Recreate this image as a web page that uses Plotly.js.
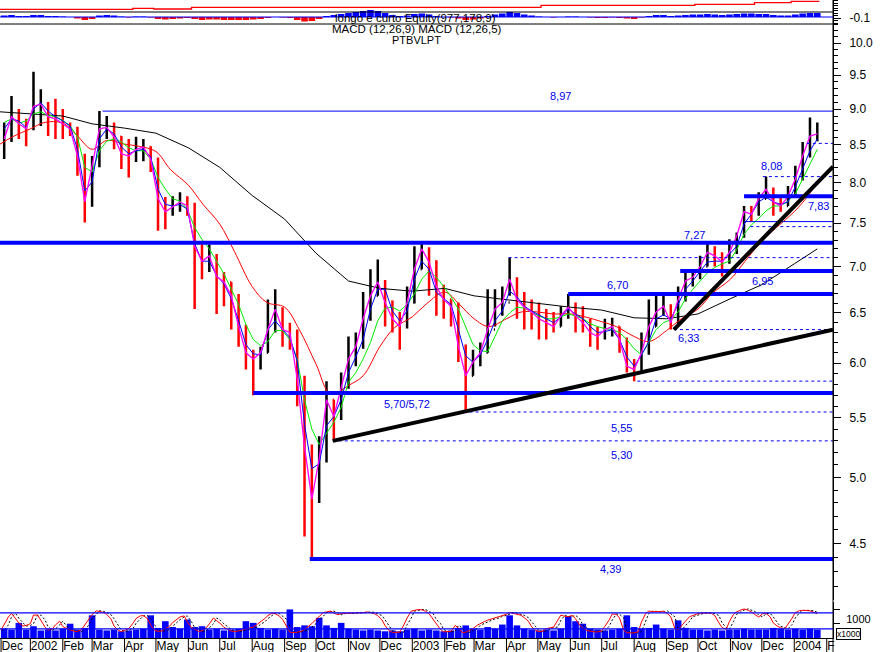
<!DOCTYPE html>
<html><head><meta charset="utf-8">
<script src="https://cdn.plot.ly/plotly-3.0.1.min.js"></script>
<style>html,body{margin:0;padding:0;background:#fff;}#chart{width:880px;height:652px;}</style>
</head><body><div id="chart"></div>
<script>
// ---------- DATA (weekly) ----------
const weeks = ["2001-12-07","2001-12-14","2001-12-21","2001-12-28","2002-01-04","2002-01-11","2002-01-18","2002-01-25","2002-02-01","2002-02-08","2002-02-15","2002-02-22","2002-03-01","2002-03-08","2002-03-15","2002-03-22","2002-03-29","2002-04-05","2002-04-12","2002-04-19","2002-04-26","2002-05-03","2002-05-10","2002-05-17","2002-05-24","2002-05-31","2002-06-07","2002-06-14","2002-06-21","2002-06-28","2002-07-05","2002-07-12","2002-07-19","2002-07-26","2002-08-02","2002-08-09","2002-08-16","2002-08-23","2002-08-30","2002-09-06","2002-09-13","2002-09-20","2002-09-27","2002-10-04","2002-10-11","2002-10-18","2002-10-25","2002-11-01","2002-11-08","2002-11-15","2002-11-22","2002-11-29","2002-12-06","2002-12-13","2002-12-20","2002-12-27","2003-01-03","2003-01-10","2003-01-17","2003-01-24","2003-01-31","2003-02-07","2003-02-14","2003-02-21","2003-02-28","2003-03-07","2003-03-14","2003-03-21","2003-03-28","2003-04-04","2003-04-11","2003-04-18","2003-04-25","2003-05-02","2003-05-09","2003-05-16","2003-05-23","2003-05-30","2003-06-06","2003-06-13","2003-06-20","2003-06-27","2003-07-04","2003-07-11","2003-07-18","2003-07-25","2003-08-01","2003-08-08","2003-08-15","2003-08-22","2003-08-29","2003-09-05","2003-09-12","2003-09-19","2003-09-26","2003-10-03","2003-10-10","2003-10-17","2003-10-24","2003-10-31","2003-11-07","2003-11-14","2003-11-21","2003-11-28","2003-12-05","2003-12-12","2003-12-19","2003-12-26","2004-01-02","2004-01-09","2004-01-16","2004-01-23"];

const weekClose = [8.58,8.89,8.79,8.72,9.04,9.07,8.89,8.86,8.79,8.72,
8.35,7.76,8.22,8.72,8.74,8.61,8.38,8.35,8.44,8.47,
8.31,7.80,7.64,7.70,7.76,7.71,7.23,7.06,7.12,6.89,
6.83,6.68,6.36,6.10,6.04,6.10,6.33,6.54,6.33,6.30,
5.85,5.25,4.83,5.15,5.66,5.51,5.78,6.04,6.16,6.44,
6.68,6.83,6.61,6.44,6.36,6.61,6.97,7.20,7.05,6.78,
6.64,6.57,6.16,5.88,6.01,6.10,6.33,6.54,6.61,6.86,
6.64,6.56,6.51,6.44,6.40,6.36,6.47,6.56,6.47,6.40,
6.30,6.26,6.33,6.36,6.23,5.97,5.94,6.10,6.36,6.51,
6.57,6.40,6.64,6.84,6.88,7.00,7.16,7.12,7.05,7.16,
7.35,7.64,7.61,7.80,7.92,7.76,7.71,7.83,8.05,8.35,
8.62,8.65];

const weekHigh = [8.81,9.19,9.00,8.86,9.55,9.29,9.10,9.15,9.00,8.81,
8.75,8.38,8.35,8.97,8.90,8.81,8.62,8.58,8.61,8.58,
8.48,8.33,7.82,7.83,7.88,7.83,7.75,7.28,7.25,7.14,
6.94,6.83,6.70,6.38,6.13,6.16,6.64,6.75,6.56,6.40,
6.33,5.88,5.27,5.34,5.83,5.66,5.91,6.26,6.30,6.72,
6.97,7.08,6.85,6.63,6.51,6.78,7.23,7.29,7.22,7.07,
6.80,6.64,6.61,6.18,6.13,6.20,6.75,6.75,6.78,7.10,
6.88,6.72,6.64,6.61,6.54,6.51,6.57,6.70,6.61,6.57,
6.44,6.36,6.44,6.45,6.36,6.25,6.04,6.30,6.64,6.68,
6.68,6.59,6.78,6.97,6.97,7.12,7.28,7.23,7.16,7.31,
7.39,7.71,7.71,7.88,8.08,7.94,7.83,7.96,8.22,8.54,
8.88,8.81];

const weekLow = [8.31,8.54,8.58,8.48,8.70,8.76,8.62,8.58,8.58,8.62,
8.09,7.51,7.70,8.20,8.58,8.44,8.18,8.07,8.27,8.28,
8.14,7.41,7.43,7.59,7.64,7.59,6.54,6.86,6.94,6.49,
6.57,6.33,6.16,5.94,5.70,5.94,6.10,6.30,6.16,6.13,
5.60,4.55,4.39,4.80,5.12,5.30,5.48,5.76,5.97,6.14,
6.42,6.68,6.36,6.30,6.13,6.34,6.60,6.97,6.68,6.47,
6.44,6.36,6.01,5.55,5.88,5.97,6.10,6.36,6.47,6.68,
6.44,6.33,6.33,6.23,6.23,6.30,6.36,6.44,6.30,6.30,
6.16,6.13,6.23,6.26,6.10,5.91,5.83,5.92,6.08,6.36,
6.47,6.33,6.38,6.62,6.78,6.86,7.00,7.00,6.89,7.03,
7.14,7.33,7.52,7.59,7.80,7.59,7.64,7.71,7.81,8.03,
8.33,8.55];

const maBlue = [8.72,8.86,8.83,8.74,9.00,9.09,8.97,8.89,8.83,8.76,
8.44,7.90,8.01,8.58,8.72,8.65,8.47,8.38,8.42,8.44,
8.34,7.92,7.73,7.71,7.73,7.67,7.26,7.06,7.06,6.90,
6.81,6.65,6.42,6.18,6.09,6.08,6.33,6.42,6.33,6.25,
6.02,5.44,5.07,5.11,5.43,5.51,5.66,5.91,6.06,6.23,
6.54,6.75,6.75,6.52,6.42,6.52,6.86,7.06,6.97,6.72,
6.65,6.59,6.33,6.07,6.01,6.08,6.23,6.42,6.52,6.73,
6.67,6.57,6.52,6.48,6.44,6.40,6.46,6.54,6.49,6.44,
6.36,6.30,6.31,6.33,6.23,6.06,5.97,6.08,6.21,6.44,
6.48,6.44,6.59,6.75,6.84,6.95,7.05,7.06,7.06,7.14,
7.23,7.49,7.61,7.76,7.82,7.76,7.73,7.76,7.95,8.18,
8.42,8.58];

const maGreen = [8.81,8.86,8.80,8.83,8.93,8.96,8.91,8.89,8.84,8.76,
8.61,8.20,8.14,8.42,8.55,8.58,8.54,8.46,8.42,8.42,
8.31,8.07,7.92,7.80,7.77,7.67,7.45,7.31,7.20,7.06,
6.92,6.75,6.59,6.38,6.23,6.17,6.21,6.32,6.32,6.23,
6.04,5.66,5.40,5.27,5.36,5.46,5.59,5.82,5.91,6.04,
6.20,6.42,6.55,6.56,6.52,6.59,6.70,6.86,6.95,6.88,
6.78,6.67,6.54,6.36,6.18,6.12,6.11,6.26,6.42,6.50,
6.56,6.55,6.51,6.47,6.44,6.44,6.46,6.49,6.47,6.44,
6.39,6.36,6.34,6.33,6.30,6.23,6.14,6.08,6.20,6.33,
6.40,6.43,6.51,6.65,6.75,6.84,6.93,6.99,7.03,7.06,
7.19,7.37,7.48,7.56,7.65,7.71,7.71,7.77,7.86,8.05,
8.24,8.44];

const maRedDates = ["2001-12-03","2001-12-15","2002-01-01","2002-01-15","2002-02-01","2002-02-15","2002-03-01","2002-03-15","2002-04-01","2002-04-15","2002-05-01","2002-05-15","2002-06-01","2002-06-15","2002-07-01","2002-07-15","2002-08-01","2002-08-15","2002-09-01","2002-09-15","2002-10-01","2002-10-15","2002-11-01","2002-11-15","2002-12-01","2002-12-15","2003-01-01","2003-01-15","2003-02-01","2003-02-15","2003-03-01","2003-03-15","2003-04-01","2003-04-15","2003-05-01","2003-05-15","2003-06-01","2003-06-15","2003-07-01","2003-07-15","2003-08-01","2003-08-15","2003-09-01","2003-09-15","2003-10-01","2003-10-15","2003-11-01","2003-11-15","2003-12-01","2003-12-15","2004-01-01","2004-01-15","2004-01-23"];
const maRed = [8.51,8.61,8.72,8.81,8.80,8.62,8.44,8.56,8.51,8.48,8.41,8.17,7.97,7.73,7.49,7.17,6.78,6.61,6.56,6.33,5.99,5.71,5.79,5.88,6.16,6.35,6.46,6.60,6.72,6.59,6.44,6.36,6.44,6.51,6.51,6.49,6.49,6.46,6.41,6.36,6.26,6.21,6.32,6.44,6.54,6.71,6.86,7.06,7.29,7.45,7.64,7.85,8.01];

const maBlackDates = ["2001-12-03","2002-01-01","2002-02-01","2002-03-01","2002-04-01","2002-05-01","2002-06-01","2002-07-01","2002-08-01","2002-09-01","2002-10-01","2002-11-01","2002-12-01","2003-01-01","2003-02-01","2003-03-01","2003-04-01","2003-05-01","2003-06-01","2003-07-01","2003-08-01","2003-09-01","2003-10-01","2003-11-01","2003-12-01","2004-01-01","2004-01-23"];
const maBlack = [8.96,8.93,8.90,8.79,8.73,8.66,8.46,8.20,7.84,7.55,7.15,6.84,6.76,6.73,6.76,6.68,6.64,6.60,6.56,6.53,6.45,6.44,6.49,6.65,6.80,7.03,7.20];

// volume in thousands (x1000)
const volume = [660,600,1080,600,840,540,600,540,660,1020,
600,720,1620,600,540,600,480,540,600,660,
1620,720,1200,780,660,1320,780,840,600,660,
540,600,660,1200,1080,720,600,660,600,2040,
780,900,840,1440,900,720,1080,660,600,540,
600,540,480,540,480,600,660,540,600,540,
480,540,720,900,660,600,780,660,960,1620,
900,660,600,540,600,540,660,1560,1200,1020,
660,600,540,600,660,1620,780,660,720,960,
660,600,1260,720,600,600,540,600,540,600,
600,660,600,600,600,720,660,600,660,600,
660,600];

const macdHist = [0.015,0.02,0.01,0.01,0.02, 0.02,0.01,0.01,0.005,0.0,
-0.015,-0.03,-0.02, 0.015,0.02,0.015,0.005,-0.005, 0.005,0.005,-0.005,
-0.02,-0.025,-0.02,-0.015,-0.01,
-0.02,-0.03,-0.025,-0.025,-0.03,-0.03,-0.03,-0.03,-0.025,-0.02,-0.01,
0.0,-0.005, -0.01,-0.03,-0.045,-0.04,-0.02,
0.01,0.02,0.03,0.04,0.05,0.06,0.07,0.06, 0.04,0.02,0.01,0.015,
0.03,0.035,0.025, 0.01,0.0,-0.005,-0.015, -0.03,-0.025,-0.015,
0.01,0.025,0.035,0.05, 0.04,0.025,0.015,0.005,0.0,-0.005,0.0,0.005,0.005,0.0,-0.005,
-0.01,-0.01,-0.005,-0.01,-0.015,-0.02,
-0.005,0.01,0.02,0.02,0.01,0.015,0.02,0.025,0.025,0.03,0.025,0.02,0.025,0.03,0.035,0.035,0.03,0.03,0.02,0.015,0.015,0.025,0.035,0.04,0.04];

const equityDates = ["2001-12-03","2002-04-09","2002-04-29","2002-06-04","2003-05-04","2003-09-28","2003-11-24","2003-12-29","2004-01-25"];
const equity = [-0.013,-0.003,-0.010,0.007,0.027,0.037,0.053,0.067,0.067];

// stochastic %K, two readings per week (Tuesday, Friday)
const stochK = [16,35, 65,78, 60,43, 31,33, 40,72, 72,54, 27,16, 20,35, 49,29, 21,16,
12,10, 18,35, 58,74, 88,86, 82,74, 58,31, 15,10, 15,21, 41,59, 69,70,
58,34, 14,11, 13,19, 30,44, 55,65, 69,47, 25,19, 11,13, 24,39, 61,51,
39,26, 18,12, 10,13, 16,19, 24,27, 38,46, 59,70, 79,77, 68,56, 30,8,
6,8, 11,18, 29,40, 56,68, 81,84, 87,80, 73,78, 78,77, 79,80, 80,81,
84,82, 77,70, 54,32, 13,7, 6,8, 36,61, 87,89, 93,92, 86,77, 55,40,
18,9, 9,11, 33,24, 6,8, 15,21, 34,41, 48,53, 58,61, 67,71, 75,82,
79,76, 71,62, 49,28, 14,10, 12,21, 25,27, 53,72, 67,66, 71,58, 34,23,
14,11, 9,9, 13,30, 53,76, 75,61, 15,6, 5,5, 10,46, 78,87, 85,84,
85,87, 77,65, 21,17, 33,49, 66,71, 76,79, 80,80, 78,70, 43,25, 19,48,
75,84, 91,95, 90,84, 72,65, 78,78, 65,42, 30,24, 21,37, 61,81, 89,90,
90,88, 82,77];

// support / resistance levels
const levelsMajor = [7.27, 5.72, 4.39, 6.70, 6.95, 7.83];
const levelsMajorFrom = ["2001-12-03","2002-08-02","2002-09-25","2003-05-30","2003-09-14","2003-11-14"];
const levelsThin = [8.97, 7.52];
const levelsThinFrom = ["2002-03-11","2003-11-14"];
const levelsDashed = [5.55, 5.30, 7.10, 5.83, 6.33, 7.46, 8.08, 8.52];
const levelsDashedFrom = ["2003-02-19","2002-10-17","2003-04-03","2003-08-04","2003-09-08","2003-11-20","2003-12-02","2004-01-13"];
const trendA = {dates:["2002-10-17","2004-02-07"], values:[5.30, 6.33]};
const trendB = {dates:["2003-09-08","2004-02-07"], values:[6.33, 8.21]};

const labelText  = ["8,97","7,27","5,70/5,72","5,55","5,30","4,39","6,70","6,95","6,33","7,83","8,08"];
const labelLevel = [8.97, 7.27, 5.72, 5.55, 5.30, 4.39, 6.70, 6.95, 6.33, 7.83, 8.08];

const monthTicks = ["2001-12-04","2002-01-01","2002-02-01","2002-03-01","2002-04-01","2002-05-01","2002-06-01","2002-07-01","2002-08-01","2002-09-01","2002-10-01","2002-11-01","2002-12-01","2003-01-01","2003-02-01","2003-03-01","2003-04-01","2003-05-01","2003-06-01","2003-07-01","2003-08-01","2003-09-01","2003-10-01","2003-11-01","2003-12-01","2004-01-01","2004-02-01"];
const monthLabels = ["Dec","2002","Feb","Mar","Apr","May","Jun","Jul","Aug","Sep","Oct","Nov","Dec","2003","Feb","Mar","Apr","May","Jun","Jul","Aug","Sep","Oct","Nov","Dec","2004","F"];
const priceTicks = [4.5,5.0,5.5,6.0,6.5,7.0,7.5,8.0,8.5,9.0,9.5,10.0];

// ---------- BUILD ----------
const X0 = "2001-12-03", X1 = "2004-02-07";
function shiftDays(s, n){ const d = new Date(s+"T00:00:00Z"); d.setUTCDate(d.getUTCDate()+n); return d.toISOString().slice(0,10); }
const stochDates = weeks.flatMap(w => [shiftDays(w,-3), w]);
const stochD = stochK.map((v,i)=> i ? stochK[i-1] : v);
const opens = weekClose.map((c,i)=> i ? weekClose[i-1] : c);

const BLUE = "#0000ff";
const traces = [];
traces.push({type:"ohlc", x:weeks, open:opens, high:weekHigh, low:weekLow, close:weekClose,
  increasing:{line:{color:"#000000", width:2.5}}, decreasing:{line:{color:"#ff0000", width:2.5}},
  tickwidth:0.15, hoverinfo:"skip", xaxis:"x", yaxis:"y"});
traces.push({x:maBlackDates, y:maBlack, mode:"lines", line:{color:"#000000", width:1}, yaxis:"y"});
traces.push({x:maRedDates, y:maRed, mode:"lines", line:{color:"#ff0000", width:1, shape:"spline"}, yaxis:"y"});
traces.push({x:weeks, y:maGreen, mode:"lines", line:{color:"#00ee00", width:1}, yaxis:"y"});
traces.push({x:weeks, y:maBlue, mode:"lines", line:{color:BLUE, width:1}, yaxis:"y"});
traces.push({x:weeks, y:weekClose, mode:"lines", line:{color:"#ff00ff", width:1.3}, yaxis:"y"});
levelsMajor.forEach((v,i)=> traces.push({x:[levelsMajorFrom[i], X1], y:[v,v], mode:"lines", line:{color:BLUE, width:4}, yaxis:"y"}));
levelsThin.forEach((v,i)=> traces.push({x:[levelsThinFrom[i], X1], y:[v,v], mode:"lines", line:{color:BLUE, width:1}, yaxis:"y"}));
levelsDashed.forEach((v,i)=> traces.push({x:[levelsDashedFrom[i], X1], y:[v,v], mode:"lines", line:{color:BLUE, width:1, dash:"3px,3px"}, yaxis:"y"}));
[trendA, trendB].forEach(t => traces.push({x:t.dates, y:t.values, mode:"lines", line:{color:"#000000", width:4}, yaxis:"y"}));
// top pane
traces.push({type:"bar", x:weeks, y:macdHist, base:-0.09, marker:{color:macdHist.map(v=> v>=0 ? BLUE : "#ff0000"), line:{width:0}}, yaxis:"y3", hoverinfo:"skip"});
traces.push({x:equityDates, y:equity, mode:"lines", line:{color:"#ff0000", width:1.3, shape:"hv"}, yaxis:"y3"});
// bottom pane
traces.push({type:"bar", x:weeks, y:volume, marker:{color:BLUE, line:{width:0}}, yaxis:"y2", hoverinfo:"skip"});
traces.push({x:stochDates, y:stochD, mode:"lines", line:{color:"#000000", width:1, dash:"2px,2px"}, yaxis:"y4"});
traces.push({x:stochDates, y:stochK, mode:"lines", line:{color:"#ff0000", width:1}, yaxis:"y4"});

// label placement (pixel offsets from their level lines)
const labelAt = ["2003-05-23","2003-09-28","2002-12-27","2003-07-20","2003-07-20","2003-07-09","2003-07-16","2003-12-02","2003-09-22","2004-01-24","2003-12-10"];
const labelShift = [15, 8, -11, -16, -14, -10, 9, -10, -8, -10, 11];

const annotations = labelText.map((t,i)=>({x:labelAt[i], y:Math.log10(labelLevel[i]), xref:"x", yref:"y", text:t, showarrow:false,
  yshift:labelShift[i], font:{size:11, color:"#0000ee", family:"Liberation Sans, Arial, sans-serif"}}));
const yp = px => (638 - px)/638;
annotations.push({xref:"paper", yref:"paper", x:415/833, y:yp(10), text:"longo e curto Equity(977,178,9)", showarrow:false, font:{size:11.5, color:"#000"}});
annotations.push({xref:"paper", yref:"paper", x:417/833, y:yp(21.5), text:"MACD (12,26,9) MACD (12,26,5)", showarrow:false, font:{size:11.5, color:"#000"}});
annotations.push({xref:"paper", yref:"paper", x:416/833, y:yp(32), text:"PTBVLPT", showarrow:false, font:{size:11, color:"#000"}});
annotations.push({xref:"paper", yref:"paper", x:836/833, y:yp(634), xanchor:"left", yanchor:"middle", text:"x1000", showarrow:false,
  font:{size:8.5, color:"#000"}, bordercolor:"#000", borderwidth:1, borderpad:0, bgcolor:"#fff"});

const shapes = [];
monthTicks.forEach(d => shapes.push({type:"line", xref:"x", yref:"paper", x0:d, x1:d, y0:0, y1:-14/638, line:{color:"#000", width:1}}));
shapes.push({type:"line", xref:"paper", yref:"paper", x0:1, x1:1, y0:-14/638, y1:1, line:{color:"#000", width:1}});
shapes.push({type:"line", xref:"paper", yref:"paper", x0:0, x1:1, y0:yp(24), y1:yp(24), line:{color:"#000", width:1}});
shapes.push({type:"line", xref:"paper", yref:"y3", x0:0, x1:1, y0:-0.04, y1:-0.04, line:{color:"#000", width:1}});
shapes.push({type:"line", xref:"paper", yref:"y3", x0:0, x1:1, y0:-0.09, y1:-0.09, line:{color:BLUE, width:1}});
[80, 20].forEach(v => shapes.push({type:"line", xref:"paper", yref:"y4", x0:0, x1:1, y0:v, y1:v, line:{color:BLUE, width:1.3}}));

const minorPrice = [];
for (let v = 42; v <= 103; v++) { if (v % 5 !== 0) minorPrice.push(v/10); }

const layout = {
  width:880, height:652, margin:{l:0, r:47, t:0, b:14},
  paper_bgcolor:"#fff", plot_bgcolor:"#fff", showlegend:false, bargap:0.1,
  font:{family:"Liberation Sans, Arial, sans-serif", color:"#000", size:12},
  xaxis:{type:"date", range:[X0, X1], anchor:"y2", tickvals:monthTicks, ticktext:monthLabels, ticks:"", tickangle:0,
    ticklabelposition:"outside right", ticklabelstandoff:-3, tickfont:{size:12}, showgrid:false, zeroline:false,
    showline:true, linecolor:"#000", linewidth:1, rangeslider:{visible:false}, fixedrange:true},
  yaxis:{domain:[yp(600), yp(24)], type:"log", range:[0.614, 1.013167], side:"right",
    tickvals:priceTicks, ticktext:priceTicks.map(v=>v.toFixed(1)), ticks:"outside", ticklen:7, tickcolor:"#000",
    ticklabelstandoff:6, showline:true, linecolor:"#000", showgrid:false, zeroline:false, tickfont:{size:12},
    minor:{tickvals:minorPrice, ticks:"outside", ticklen:4, tickcolor:"#000", showgrid:false}, fixedrange:true},
  yaxis2:{domain:[0, yp(602)], range:[0, 2570], side:"right", tickvals:[1000, 2000], ticktext:["1000",""],
    ticks:"outside", ticklen:6, tickcolor:"#000", showline:true, linecolor:"#000", showgrid:false, zeroline:false,
    ticklabelstandoff:4, ticklabelshift:-5, tickfont:{size:11}, fixedrange:true},
  yaxis3:{domain:[yp(24), 1], range:[-0.16, 0.08], side:"right", tickvals:[-0.1], ticktext:["-0.1"],
    ticks:"outside", ticklen:7, tickcolor:"#000", showline:true, linecolor:"#000", showgrid:false, zeroline:false,
    ticklabelstandoff:6, tickfont:{size:12}, minor:{dtick:0.025, ticks:"outside", ticklen:4, tickcolor:"#000", showgrid:false}, fixedrange:true},
  yaxis4:{overlaying:"y2", range:[-13.9, 121], side:"right", visible:false, fixedrange:true},
  annotations:annotations, shapes:shapes
};

Plotly.newPlot("chart", traces, layout, {displayModeBar:false, staticPlot:true});
</script></body></html>
